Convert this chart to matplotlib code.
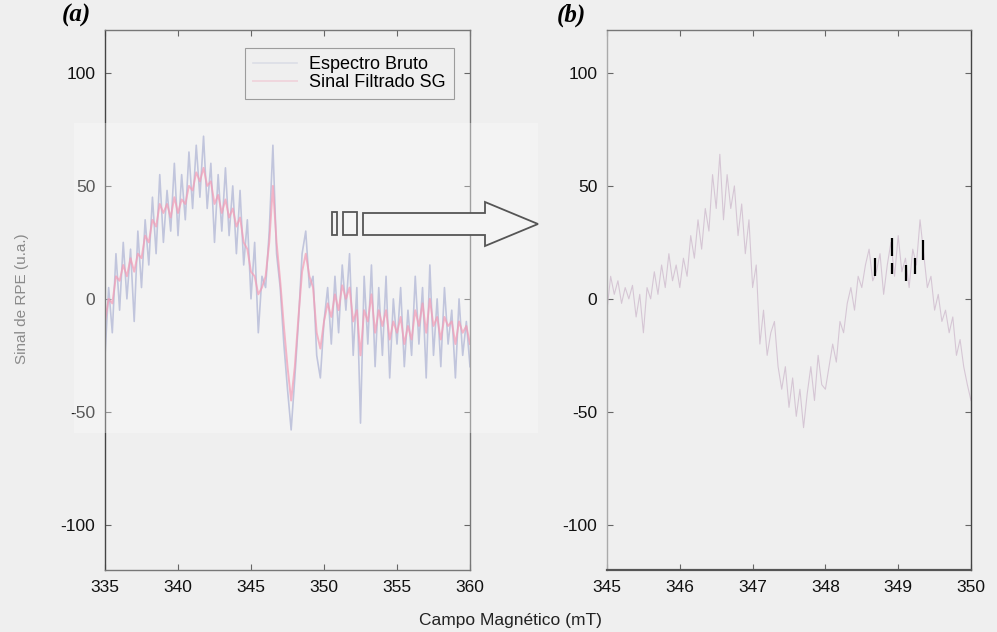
import numpy as np
import matplotlib
matplotlib.use("Agg")
import matplotlib.pyplot as plt
from matplotlib.patches import Polygon, Rectangle

plt.rcParams['font.family'] = ['Liberation Sans', 'DejaVu Sans']
plt.rcParams['axes.unicode_minus'] = False

# ---------------- data ----------------
# Panel (a): full sweep, 335-360 mT (step 0.25 mT)
campo_a_inicio, campo_a_fim = 335.0, 360.0
espectro_bruto = [
    -25, 5, -15, 20, -5, 25, 0, 22, -10, 30, 5, 35, 15, 45, 20, 55, 25, 48, 30, 60,
    28, 55, 35, 65, 40, 68, 45, 72, 40, 60, 25, 55, 30, 58, 28, 50, 20, 48, 15, 35,
    0, 25, -15, 10, 5, 30, 68, 20, 5, -20, -40, -58, -35, -10, 20, 30, 5, 10, -25, -35,
    -10, 5, -20, 10, -15, 15, -5, 20, -25, 5, -55, 10, -20, 15, -30, 5, -25, 10, -35, 0,
    -20, 5, -30, -5, -25, 10, -20, 5, -35, 15, -25, 0, -30, 5, -20, -5, -35, 0, -25, -10,
    -30]
sinal_filtrado = [
    -10, 0, -2, 10, 8, 15, 10, 18, 12, 20, 18, 28, 25, 35, 32, 42, 38, 42, 36, 45,
    38, 44, 42, 50, 48, 56, 52, 58, 50, 52, 42, 46, 38, 44, 36, 40, 32, 36, 25, 22,
    12, 10, 2, 5, 10, 25, 50, 25, 8, -12, -30, -45, -30, -8, 12, 20, 10, 5, -15, -22,
    -10, -2, -8, 2, -5, 6, 0, 5, -10, -5, -25, -5, -10, 2, -15, -5, -12, -5, -18, -10,
    -15, -8, -20, -12, -18, -5, -12, -2, -15, 0, -12, -8, -18, -8, -12, -10, -20, -10, -15, -12,
    -20]

# Panel (b): zoom 345-350 mT (step 0.05 mT)
campo_b_inicio, campo_b_fim = 345.0, 350.0
espectro_zoom = [
    -5, 10, 2, 8, -2, 5, 0, 6, -8, 2, -15, 5, 0, 12, 2, 15, 5, 20, 8, 15,
    5, 18, 10, 28, 18, 35, 22, 40, 30, 55, 40, 64, 35, 55, 40, 50, 28, 42, 20, 35,
    5, 15, -20, -5, -25, -15, -10, -30, -40, -30, -48, -35, -52, -40, -57, -42, -30, -45, -25, -38,
    -40, -30, -20, -28, -10, -15, -2, 5, -5, 10, 5, 15, 22, 8, 12, 20, 2, 15, 25, 10,
    28, 12, 18, 5, 22, 15, 35, 20, 5, 10, -5, 2, -10, -5, -15, -8, -25, -18, -30, -38,
    -45]
# dark marks seen in the zoomed spectrum
destaque_campo = [348.68, 348.91, 348.92, 349.11, 349.23, 349.34]
destaque_min = [10, 19, 11, 8, 11, 17]
destaque_max = [18, 27, 16, 15, 18, 26]

rotulos_legenda = ["Espectro Bruto", "Sinal Filtrado SG"]

# ---------------- figure ----------------
bg = "#efefef"
fig = plt.figure(figsize=(9.97, 6.32), dpi=100, facecolor=bg)

W, H = 997.0, 632.0
def ax_rect(x0, y0, x1, y1):
    return [x0 / W, 1 - y1 / H, (x1 - x0) / W, (y1 - y0) / H]

ax1 = fig.add_axes(ax_rect(105, 30, 470, 570), facecolor=bg)
ax2 = fig.add_axes(ax_rect(607, 30, 971, 570), facecolor=bg)

xa = np.linspace(campo_a_inicio, campo_a_fim, len(espectro_bruto))
xf = np.linspace(campo_a_inicio, campo_a_fim, len(sinal_filtrado))
xb = np.linspace(campo_b_inicio, campo_b_fim, len(espectro_zoom))

l1, = ax1.plot(xa, espectro_bruto, color="#8f97c4", lw=1.2, alpha=0.75)
l2, = ax1.plot(xf, sinal_filtrado, color="#f07095", lw=1.4, alpha=0.7)

ax2.plot(xb, espectro_zoom, color="#cdb9cc", lw=0.8, alpha=0.75)
ax2.vlines(destaque_campo, destaque_min, destaque_max, color="black", lw=1.6)

for ax, xlim, xt in ((ax1, (335, 360), [335, 340, 345, 350, 355, 360]),
                     (ax2, (345, 350), [345, 346, 347, 348, 349, 350])):
    ax.set_xlim(*xlim)
    ax.set_ylim(-120, 119)
    ax.set_xticks(xt)
    ax.set_yticks([-100, -50, 0, 50, 100])
    ax.tick_params(direction="in", length=4, width=0.8, color="#666666",
                   top=True, right=True, labelsize=12.5, pad=7,
                   labelcolor="#111111")
    for s in ax.spines.values():
        s.set_color("#777777")
        s.set_linewidth(1.0)
ax1.spines["left"].set_color("#444444")
ax2.spines["right"].set_color("#444444")
ax2.spines["bottom"].set_color("#555555")
ax2.spines["bottom"].set_linewidth(1.6)
ax2.spines["left"].set_color("#aaaaaa")

leg = ax1.legend([l1, l2], rotulos_legenda, loc="upper right",
                 bbox_to_anchor=(0.956, 0.967), fontsize=13, frameon=True,
                 fancybox=False, edgecolor="#888888", facecolor=bg,
                 handlelength=2.4, handletextpad=0.7, borderpad=0.45,
                 labelspacing=0.05, borderaxespad=0)
leg.get_frame().set_linewidth(0.8)
for h in leg.get_lines():
    h.set_alpha(0.2)

fig.text(22 / W, 1 - 299 / H, "Sinal de RPE (u.a.)", rotation=90, ha="center",
         va="center", fontsize=11, color="#8a8a8a")
fig.text(510 / W, 1 - 620 / H, "Campo Magnético (mT)", ha="center", va="center",
         fontsize=12.5, color="#222222")
for lbl, x in (("(a)", 76), ("(b)", 571)):
    fig.text(x / W, 1 - 15 / H, lbl, ha="center", va="center", fontsize=18,
             fontweight="bold", fontstyle="italic",
             family=["Liberation Serif", "DejaVu Serif"])

# overlay axes in pixel coordinates for the scan artefacts and arrow
ov = fig.add_axes([0, 0, 1, 1], facecolor="none")
ov.set_xlim(0, W)
ov.set_ylim(H, 0)
ov.axis("off")
ov.add_patch(Rectangle((74, 123), 464, 310, facecolor="white", alpha=0.3,
                       edgecolor="none", zorder=1))
seta = [(363, 213), (485, 213), (485, 202), (538, 224), (485, 246),
        (485, 235), (363, 235)]
ov.add_patch(Polygon(seta, closed=True, facecolor="#f4f4f4", edgecolor="#555555",
                     lw=1.3, zorder=3))
ov.add_patch(Rectangle((332, 212), 5, 23, facecolor="#f4f4f4",
                       edgecolor="#555555", lw=1.3, zorder=3))
ov.add_patch(Rectangle((343, 212), 14, 23, facecolor="#f4f4f4",
                       edgecolor="#555555", lw=1.3, zorder=3))

fig.savefig("out.png", dpi=100, facecolor=bg)
